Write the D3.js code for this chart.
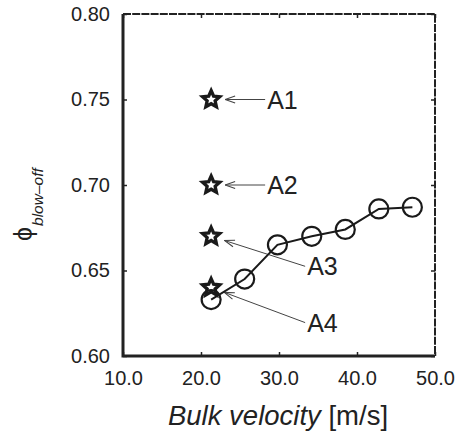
<!DOCTYPE html>
<html>
<head>
<meta charset="utf-8">
<script src="https://cdn.jsdelivr.net/npm/d3@7"></script>
<style>
  body { margin: 0; background: #fff; }
  text { font-family: "Liberation Sans", Arial, sans-serif; fill: #222; }
</style>
</head>
<body>
<script>
// measured blow-off limits (open circles)
const velocity = [21.3, 25.6, 29.8, 34.2, 38.5, 42.8, 47.1];
const phiBlowOff = [0.633, 0.645, 0.665, 0.670, 0.674, 0.686, 0.687];

// operating cases (stars)
const caseLabels = ["A1", "A2", "A3", "A4"];
const caseVelocity = [21.3, 21.3, 21.3, 21.3];
const casePhi = [0.75, 0.70, 0.67, 0.64];

const xTicks = [10, 20, 30, 40, 50];
const yTicks = [0.60, 0.65, 0.70, 0.75, 0.80];

var width = 459, height = 436;
var margin = {left: 123, top: 14, right: 24, bottom: 80};
var w = width - margin.left - margin.right, h = height - margin.top - margin.bottom;

var svg = d3.select("body").append("svg")
            .attr("width", width).attr("height", height);

var defs = svg.append("defs");
defs.append("marker").attr("id", "head")
    .attr("viewBox", "0 0 12 12").attr("refX", 0).attr("refY", 6)
    .attr("markerWidth", 12).attr("markerHeight", 12)
    .attr("markerUnits", "userSpaceOnUse").attr("orient", "auto")
    .append("path").attr("d", "M10,2.6 L0,6 L10,9.4")
    .attr("fill", "none").attr("stroke", "#444").attr("stroke-width", 1.1);

var g = svg.append("g").attr("transform", "translate(" + margin.left + "," + margin.top + ")");

var x = d3.scaleLinear().domain([10, 50]).range([0, w]);
var y = d3.scaleLinear().domain([0.60, 0.80]).range([h, 0]);

// axes with inward ticks
g.append("g").attr("transform", "translate(0," + h + ")")
  .call(d3.axisBottom(x).tickValues(xTicks).tickFormat(d3.format(".1f"))
        .tickSizeInner(-4).tickSizeOuter(0).tickPadding(15));
g.append("g")
  .call(d3.axisLeft(y).tickValues(yTicks).tickFormat(d3.format(".2f"))
        .tickSizeInner(-4).tickSizeOuter(0).tickPadding(13));
g.append("g")
  .call(d3.axisTop(x).tickValues(xTicks).tickFormat("").tickSizeInner(-4).tickSizeOuter(0));
g.append("g").attr("transform", "translate(" + w + ",0)")
  .call(d3.axisRight(y).tickValues(yTicks).tickFormat("").tickSizeInner(-4).tickSizeOuter(0));
g.selectAll(".domain").remove();
g.selectAll(".tick line").attr("stroke", "#222").attr("stroke-width", 1.5);
g.selectAll(".tick text").style("font-size", "20px").attr("fill", "#222");

// frame: solid left/bottom, dashed top/right
g.append("path").attr("d", "M0,0 V" + h + " H" + w)
  .attr("fill", "none").attr("stroke", "#222").attr("stroke-width", 3);
g.append("path").attr("d", "M0,0 H" + w + " V" + h)
  .attr("fill", "none").attr("stroke", "#222").attr("stroke-width", 2)
  .attr("stroke-dasharray", "8,1.2");

// annotation arrows (pixel offsets from the star)
var labelOffsets = [[56, 0], [56, 0], [96, 30], [96, 35]];
caseLabels.forEach(function(lab, i) {
  var sx = x(caseVelocity[i]), sy = y(casePhi[i]);
  var tx = sx + labelOffsets[i][0], ty = sy + labelOffsets[i][1];
  var ang = Math.atan2(ty - sy, tx - sx);
  g.append("line")
    .attr("x1", sx + 14 * Math.cos(ang)).attr("y1", sy + 14 * Math.sin(ang))
    .attr("x2", tx - 2).attr("y2", ty)
    .attr("stroke", "#444").attr("stroke-width", 1)
    .attr("marker-start", "url(#head)");
  g.append("text").attr("x", tx).attr("y", ty).attr("dy", "0.36em")
    .style("font-size", "25px").text(lab);
});

// blow-off curve
var line = d3.line().x(function(d, i){ return x(velocity[i]); })
                    .y(function(d){ return y(d); });
g.append("path").datum(phiBlowOff).attr("d", line)
  .attr("fill", "none").attr("stroke", "#1a1a1a").attr("stroke-width", 2);
g.selectAll("circle.pt").data(phiBlowOff).enter().append("circle")
  .attr("class", "pt")
  .attr("cx", function(d, i){ return x(velocity[i]); })
  .attr("cy", function(d){ return y(d); })
  .attr("r", 9.5).attr("fill", "none")
  .attr("stroke", "#1a1a1a").attr("stroke-width", 2.2);

// stars: fat five-point outline with a small hole
function starPath(ro, ri) {
  var pts = d3.range(10).map(function(k) {
    var r = k % 2 ? ri : ro, a = -Math.PI / 2 + k * Math.PI / 5;
    return [r * Math.cos(a), r * Math.sin(a)];
  });
  return "M" + pts.join("L") + "Z";
}
g.selectAll("path.star").data(casePhi).enter().append("path")
  .attr("class", "star")
  .attr("transform", function(d, i){ return "translate(" + x(caseVelocity[i]) + "," + y(d) + ")"; })
  .attr("d", starPath(9, 4.2)).attr("fill", "none")
  .attr("stroke", "#1a1a1a").attr("stroke-width", 3.3).attr("stroke-linejoin", "miter");

// axis titles
var xl = svg.append("text").attr("x", margin.left + w / 2 - 1).attr("y", 425)
  .attr("text-anchor", "middle").style("font-size", "27.5px");
xl.append("tspan").style("font-style", "italic").text("Bulk velocity");
xl.append("tspan").text(" [m/s]");

var yl = svg.append("text").attr("transform", "translate(32,241) rotate(-90)")
  .attr("text-anchor", "start").style("font-size", "25px");
yl.append("tspan").text("\u03d5");
yl.append("tspan").attr("dy", 11).attr("dx", 1).style("font-size", "15.5px").style("font-style", "italic").text("blow\u2013off");
</script>
</body>
</html>
